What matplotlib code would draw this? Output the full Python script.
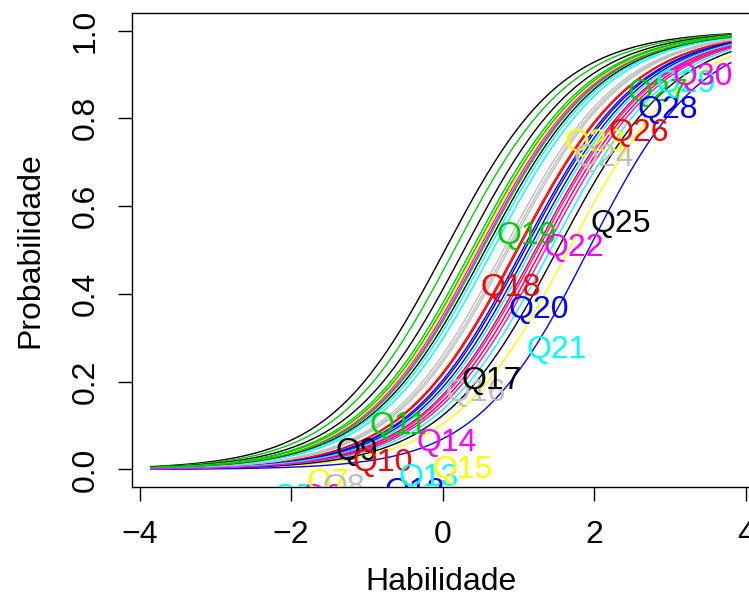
import matplotlib
matplotlib.use("Agg")
import matplotlib.pyplot as plt
import numpy as np

plt.rcParams['font.family'] = ['Liberation Sans', 'DejaVu Sans']

# item parameters (discrimination a, difficulty b)
items = ["Q%d" % i for i in range(1, 31)]
a_par = [1.30, 1.30, 1.30, 1.30, 1.30, 1.30, 1.30, 1.30,
         1.30, 1.30, 1.30, 1.30, 1.30, 1.30, 1.30, 1.30,
         1.30, 1.30, 1.30, 1.30, 1.30, 1.30, 1.30, 1.30,
         1.30, 1.30, 1.30, 1.35, 1.30, 1.30]
b_par = [0.03, 0.97, 0.15, 1.05, 0.60, 0.50, 0.43, 0.80,
         0.28, 0.99, 0.38, 1.08, 0.66, 0.47, 0.45, 0.84,
         0.56, 1.22, 0.42, 1.13, 1.42, 1.25, 1.66, 0.87,
         1.51, 1.30, 0.52, 1.92, 1.17, 1.35]

# label positions (x, y) in data units
lab_x = [-2.80, -2.60, -2.40, -2.20, -1.96, -1.60, -1.51, -1.31,
         -1.14, -0.79, -0.59, -0.37, -0.18, 0.05, 0.26, 0.43,
         0.65, 0.89, 1.11, 1.26, 1.50, 1.73, 2.01, 2.12,
         2.35, 2.59, 2.83, 2.97, 3.20, 3.43]
lab_y = [-0.10, -0.10, -0.10, -0.10, -0.065, -0.065, -0.03, -0.043,
         0.039, 0.014, 0.098, -0.052, -0.02, 0.061, -0.002, 0.175,
         0.202, 0.413, 0.532, 0.364, 0.273, 0.504, 0.743, 0.709,
         0.559, 0.766, 0.858, 0.82, 0.877, 0.895]

palette = ["#000000", "#FF0000", "#00CD00", "#0000FF",
           "#00FFFF", "#FF00FF", "#FFFF00", "#BEBEBE"]

theta = np.linspace(-3.85, 3.8, 300)

fig = plt.figure(figsize=(7.49, 5.97), dpi=100)
ax = fig.add_axes([0.1758, 0.1843, 0.8307, 0.794])

for i in range(len(items)):
    col = palette[i % 8]
    p = 1 / (1 + np.exp(-a_par[i] * (theta - b_par[i])))
    ax.plot(theta, p, color=col, lw=1.0)
    ax.text(lab_x[i], lab_y[i], items[i], color=col, fontsize=23,
            ha="center", va="center", clip_on=True)

ax.set_xlim(-4.104, 4.104)
ax.set_ylim(-0.04, 1.04)
ax.set_xticks([-4, -2, 0, 2, 4])
ax.set_yticks([0, 0.2, 0.4, 0.6, 0.8, 1.0])
ax.set_yticklabels(["0.0", "0.2", "0.4", "0.6", "0.8", "1.0"],
                   rotation=90, va="center")
ax.tick_params(direction="out", length=10, width=1, labelsize=23)
ax.tick_params(axis="x", pad=14)
ax.tick_params(axis="y", pad=12)
ax.set_xlabel("Habilidade", fontsize=23, va="center")
ax.set_ylabel("Probabilidade", fontsize=23, va="center")
ax.xaxis.set_label_coords(0.4965, -0.2004)
ax.yaxis.set_label_coords(-0.1634, 0.5)
for s in ax.spines.values():
    s.set_linewidth(1)

fig.savefig("out.png", dpi=100)
